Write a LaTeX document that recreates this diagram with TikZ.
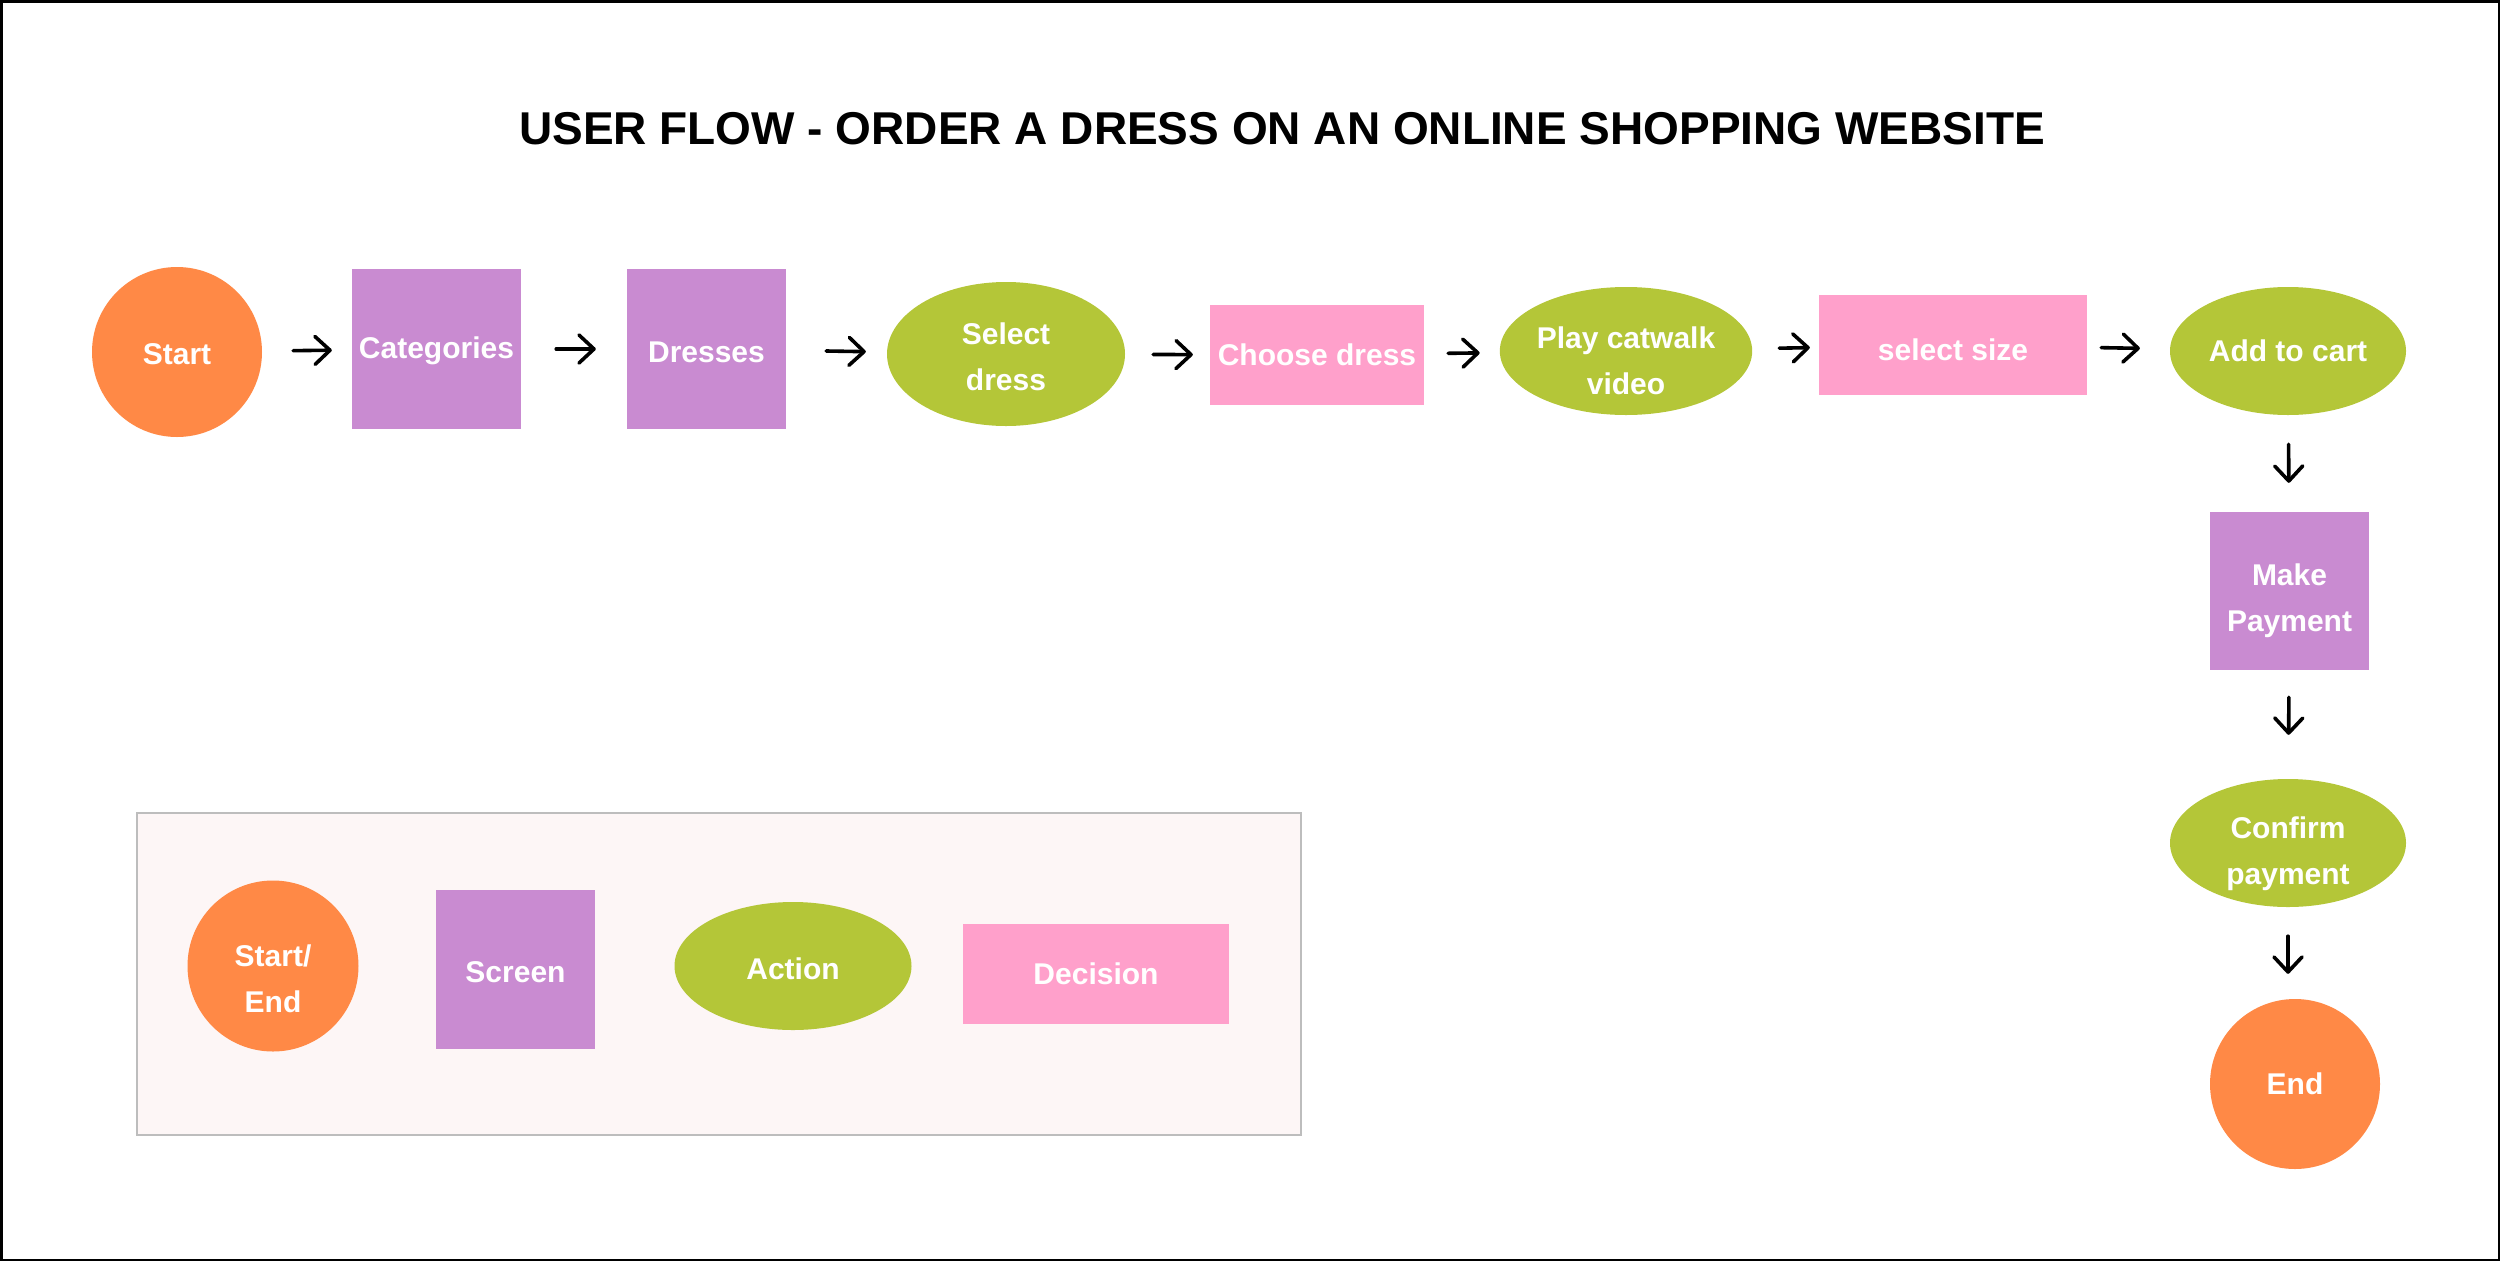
\documentclass[tikz,border=0pt]{standalone}
\usepackage{fontspec}
\setmainfont{Liberation Sans}
\usetikzlibrary{arrows.meta,shapes.geometric}
\definecolor{cOrange}{HTML}{FF8946}
\definecolor{cPurple}{HTML}{C98BD1}
\definecolor{cGreen}{HTML}{B4C638}
\definecolor{cPink}{HTML}{FFA0CB}
\definecolor{cLegBg}{HTML}{FDF6F6}
\definecolor{cLegBd}{HTML}{BDBDBD}
% lower a line of text without changing the node's size or centre
\newcommand\lo[2]{\raisebox{-#1}[\height][\depth]{#2}}
\tikzset{
  lbl/.style={text=white, font=\bfseries\fontsize{30}{46}\selectfont, align=center, inner sep=0pt},
  startend/.style={lbl, circle, fill=cOrange, minimum size=170pt},
  screen/.style={lbl, rectangle, fill=cPurple},
  action/.style={lbl, ellipse, fill=cGreen},
  decision/.style={lbl, rectangle, fill=cPink},
  arr/.style={line width=3.6pt, line cap=round, -{Straight Barb[length=15pt,width=28pt,line join=round,line cap=round]}}
}
\begin{document}
\begin{tikzpicture}[x=1pt,y=-1pt]
\useasboundingbox (0,0) rectangle (2500,1261);
\draw[line width=2.5pt] (1.25,1.25) rectangle (2498.75,1259.75);

\node[font=\bfseries\fontsize{46}{46}\selectfont, inner sep=0pt] (title) at (1282,129) {USER FLOW - ORDER A DRESS ON AN ONLINE SHOPPING WEBSITE};

% main flow
\node[startend] (start) at (177,352) {\lo{2pt}{Start}};
\node[screen, minimum width=169pt, minimum height=160pt] (cat) at (436.5,349) {\lo{2pt}{Categories}};
\node[screen, minimum width=159pt, minimum height=160pt] (dress) at (706.5,349) {\lo{3pt}{Dresses}};
\node[action, minimum width=238pt, minimum height=144pt] (sel) at (1006,354) {\lo{3pt}{Select}\\\lo{3pt}{dress}};
\node[decision, minimum width=214pt, minimum height=100pt] (choose) at (1317,355) {Choose dress};
\node[action, minimum width=236pt, minimum height=128pt] (play) at (1626,351) {\lo{10pt}{Play catwalk}\\\lo{10pt}{video}};
\node[decision, minimum width=268pt, minimum height=100pt] (size) at (1953,345) {\lo{5pt}{select size}};
\node[action, minimum width=236pt, minimum height=128pt] (add) at (2288,351) {Add to cart};
\node[screen, minimum width=159pt, minimum height=158pt] (pay) at (2289.5,591) {\lo{10pt}{Make}\\\lo{10pt}{Payment}};
\node[action, minimum width=236pt, minimum height=128pt] (conf) at (2288,843) {\lo{11pt}{Confirm}\\\lo{11pt}{payment}};
\node[startend] (end) at (2295,1084) {End};

% connectors
\draw[arr, shorten <=31pt, shorten >=20pt] (start) -- (cat);
\draw[arr, shorten <=35pt, shorten >=31pt] (cat) -- (dress);
\draw[arr, shorten <=40pt, shorten >=21pt] (dress) -- (sel);
\draw[arr, shorten <=28pt, shorten >=17pt] (sel) -- (choose);
\draw[arr, shorten <=24pt, shorten >=20pt] (choose) -- (play);
\draw[arr, shorten <=27pt, shorten >=9pt] (play) -- (size);
\draw[arr, shorten <=14pt, shorten >=30pt] (size) -- (add);
\draw[arr, shorten <=29pt, shorten >=29pt] (add) -- (pay);
\draw[arr, shorten <=27pt, shorten >=44pt] (pay) -- (conf);
\draw[arr, shorten <=29pt, shorten >=25pt] (conf.south) -- (conf.south |- end.north);

% legend
\node[draw=cLegBd, line width=1.5pt, fill=cLegBg, minimum width=1164pt, minimum height=322pt, inner sep=0pt] (legend) at (719,974) {};
\node[startend, minimum size=171pt] (lse) at (273,966) {\lo{13pt}{Start/}\\\lo{13pt}{End}};
\node[screen, minimum width=159pt, minimum height=159pt] (lsc) at (515.5,969.5) {\lo{3pt}{Screen}};
\node[action, minimum width=237pt, minimum height=128pt] (lac) at (793,966) {\lo{3pt}{Action}};
\node[decision, minimum width=266pt, minimum height=100pt] (lde) at (1096,974) {Decision};
\end{tikzpicture}
\end{document}
